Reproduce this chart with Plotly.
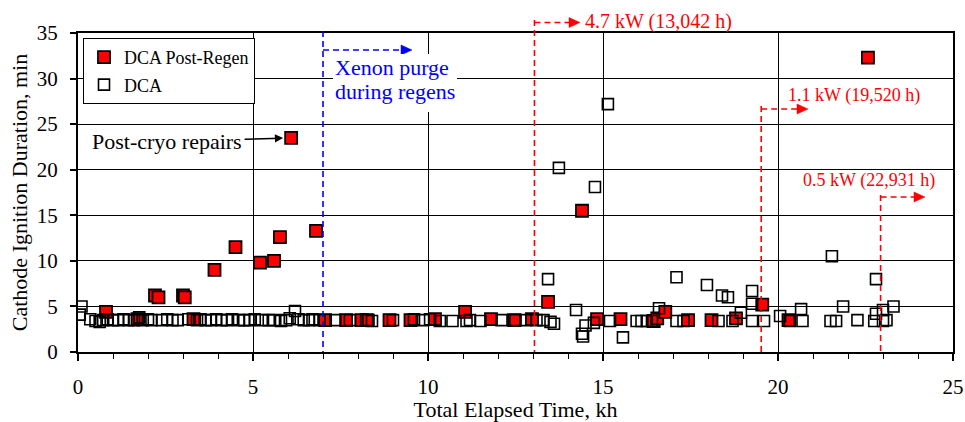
import plotly.graph_objects as go

# ---------------- data ----------------
regen_x = [0.8, 1.7, 2.2, 2.3, 3.0, 3.05, 3.3, 3.9, 4.5, 5.2, 5.6, 5.77, 6.09, 6.8,
           7.06, 7.66, 8.1, 8.25, 8.9, 9.5, 10.2, 11.06, 11.8, 12.46, 12.97, 13.43,
           14.4, 14.83, 15.5, 16.45, 16.55, 16.78, 17.43, 18.1, 18.8, 19.55, 20.3, 22.57]
regen_y = [4.4, 3.6, 6.2, 6.0, 6.2, 6.0, 3.6, 9.0, 11.5, 9.8, 10.0, 12.6, 23.5, 13.3,
           3.5, 3.5, 3.5, 3.5, 3.5, 3.5, 3.6, 4.4, 3.6, 3.5, 3.6, 5.5,
           15.5, 3.6, 3.6, 3.4, 3.7, 4.4, 3.5, 3.5, 3.7, 5.2, 3.5, 32.3]

dca_x = [0.05, 0.1, 0.35, 0.5, 0.62, 0.72, 0.85, 1.0, 1.15, 1.3, 1.45, 1.6, 1.75, 1.85,
         2.0, 2.1, 2.4, 2.55, 2.7, 2.85, 3.15, 3.4, 3.5, 3.65, 3.8, 3.95, 4.1, 4.25,
         4.4, 4.6, 4.75, 4.9, 5.05, 5.25, 5.45, 5.6, 5.8, 5.95, 6.05, 6.2, 6.3, 6.45,
         6.6, 6.7, 6.9,
         7.35, 7.77, 8.3, 8.4, 9.0, 9.6, 9.86, 10.06, 10.34, 10.7, 11.1, 11.2, 11.5,
         12.1, 12.5, 12.8, 13.1, 13.3, 13.5, 13.6,
         13.43, 13.74, 14.23, 14.4, 14.43, 14.5, 14.74, 14.77, 15.14, 15.2, 15.57,
         15.96, 16.1, 16.25, 16.4, 16.6, 17.1, 17.1, 17.3, 17.97, 18.3, 18.4, 18.57,
         18.7, 18.94, 19.26, 19.26, 19.26, 19.6, 20.06, 20.34, 20.66, 20.7, 21.5,
         21.54, 21.66, 21.86, 22.27, 22.8, 22.8, 22.75, 23.0, 23.0, 23.1, 23.3]
dca_y = [4.1, 5.0, 3.6, 3.4, 3.3, 3.5, 3.6, 3.5, 3.5, 3.6, 3.5, 3.5, 3.8, 3.5,
         3.6, 3.5, 3.5, 3.6, 3.5, 3.5, 3.6, 3.5, 3.6, 3.5, 3.5, 3.6, 3.5, 3.5,
         3.6, 3.5, 3.5, 3.5, 3.6, 3.5, 3.5, 3.5, 3.4, 3.5, 3.7, 4.5, 3.6, 3.5,
         3.5, 3.6, 3.5,
         3.5, 3.5, 3.5, 3.4, 3.5, 3.6, 3.5, 3.6, 3.4, 3.4, 3.4, 3.5, 3.4,
         3.5, 3.5, 3.5, 3.5, 3.5, 3.3, 3.1,
         8.0, 20.2, 4.6, 2.0, 1.7, 2.9, 3.2, 18.1, 27.2, 3.4, 1.6,
         3.4, 3.4, 3.4, 3.4, 4.8, 8.2, 3.4, 3.4, 7.35, 3.4, 6.2, 6.0,
         3.4, 4.3, 6.7, 5.3, 3.4, 3.4, 3.95, 3.4, 4.7, 3.4, 3.4,
         10.5, 3.4, 5.0, 3.5, 8.0, 4.2, 3.4, 4.6, 3.4, 3.5, 5.0]

x_range = [0, 25]
y_range = [0, 35]

# power-change milestones (kh) and their labels
xenon_purge_kh = 7.0
power_steps_kh = [13.042, 19.520, 22.931]
power_labels = ["4.7 kW (13,042 h)", "1.1 kW (19,520 h)", "0.5 kW (22,931 h)"]

# ---------------- layout geometry ----------------
W, H = 965, 422
ML, MR, MT, MB = 78, 12, 33, 70
PW, PH = W - ML - MR, H - MT - MB
FONT = "Liberation Serif"
RED = "#ff0000"
BLUE = "#0000ff"


def kx(kh):
    """data x (kh) -> paper x"""
    return (kh - x_range[0]) / (x_range[1] - x_range[0])


def px(xpix):
    return (xpix - ML) / PW


def py(ypix):
    return 1 - (ypix - MT) / PH


fig = go.Figure()

fig.add_trace(go.Scatter(
    x=regen_x, y=regen_y, mode="markers", name="DCA Post-Regen",
    legendgroup="a",
    marker=dict(symbol="square", size=12, color=RED,
                line=dict(color="black", width=1.8)),
))
fig.add_trace(go.Scatter(
    x=dca_x, y=dca_y, mode="markers", name="DCA",
    legendgroup="b",
    marker=dict(symbol="square-open", size=11, color="black",
                line=dict(color="black", width=1.6)),
))

shapes = []
annotations = []


def dashed_marker(kh, top_pix, arrow_pix, tip_pix, color):
    x0 = kx(kh)
    shapes.append(dict(type="line", xref="paper", yref="paper",
                       x0=x0, x1=x0, y0=py(top_pix), y1=0,
                       line=dict(color=color, width=1.6, dash="6px,4px")))
    shapes.append(dict(type="line", xref="paper", yref="paper",
                       x0=x0, x1=px(tip_pix - 10), y0=py(arrow_pix), y1=py(arrow_pix),
                       line=dict(color=color, width=1.6, dash="6px,4px")))
    path = "M {a},{b} L {c},{d} L {e},{f} Z".format(
        a=px(tip_pix - 11), b=py(arrow_pix - 5),
        c=px(tip_pix), d=py(arrow_pix),
        e=px(tip_pix - 11), f=py(arrow_pix + 5))
    shapes.append(dict(type="path", xref="paper", yref="paper", path=path,
                       fillcolor=color, line=dict(color=color, width=0.5)))


# xenon purge marker
dashed_marker(xenon_purge_kh, 31, 50, 412, BLUE)
shapes.append(dict(type="rect", xref="paper", yref="paper", layer="above",
                   x0=px(333), x1=px(457), y0=py(112), y1=py(54),
                   fillcolor="white", line=dict(width=0)))
annotations.append(dict(text="Xenon purge", xref="paper", yref="paper",
                        x=px(333), y=py(67), xanchor="left", yanchor="middle",
                        showarrow=False, font=dict(family=FONT, size=22, color=BLUE)))
annotations.append(dict(text="during regens", xref="paper", yref="paper",
                        x=px(333), y=py(91), xanchor="left", yanchor="middle",
                        showarrow=False, font=dict(family=FONT, size=22, color=BLUE)))

# power step markers
step_geom = [(20, 22.5, 580), (106, 109, 808), (195, 197, 925)]
label_pos = [(583, 22, 20), (786, 95, 18), (801, 180, 18)]
for kh, (top, ay, tip), lab, (lx, ly, fs) in zip(power_steps_kh, step_geom,
                                                 power_labels, label_pos):
    dashed_marker(kh, top, ay, tip, RED)
    annotations.append(dict(text=lab, xref="paper", yref="paper",
                            x=px(lx), y=py(ly), xanchor="left", yanchor="middle",
                            showarrow=False,
                            font=dict(family=FONT, size=fs, color=RED)))

# post-cryo repairs callout
annotations.append(dict(text="Post-cryo repairs", x=regen_x[12], y=regen_y[12],
                        xref="x", yref="y", ax=-124, ay=4,
                        showarrow=True, arrowhead=2, arrowsize=1.1, arrowwidth=1.5,
                        arrowcolor="black", standoff=8, bgcolor="white", borderpad=2,
                        font=dict(family=FONT, size=22, color="black")))

fig.update_layout(
    width=W, height=H,
    margin=dict(l=ML, r=MR, t=MT, b=MB, pad=0, autoexpand=False),
    paper_bgcolor="white", plot_bgcolor="white",
    font=dict(family=FONT, size=20, color="black"),
    shapes=shapes, annotations=annotations,
    legend=dict(x=px(83), y=py(38), xanchor="left", yanchor="top",
                bgcolor="white", bordercolor="black", borderwidth=1,
                font=dict(family=FONT, size=18, color="black"),
                tracegroupgap=1, itemwidth=30),
    showlegend=True,
)

fig.update_xaxes(
    range=x_range, dtick=5, tick0=0, automargin=False,
    showline=True, linecolor="black", linewidth=2.2, mirror=True,
    showgrid=True, gridcolor="black", gridwidth=1.3, zeroline=False,
    ticks="outside", ticklen=7, tickwidth=1.5, tickcolor="black",
    minor=dict(dtick=1, ticks="outside", ticklen=5, tickwidth=1.2,
               tickcolor="black", showgrid=False),
    tickfont=dict(family=FONT, size=21),
    ticklabelstandoff=8,
    title=dict(text="Total Elapsed Time, kh", font=dict(family=FONT, size=22),
               standoff=8),
)
fig.update_yaxes(
    range=y_range, dtick=5, tick0=0, automargin=False,
    showline=True, linecolor="black", linewidth=2.2, mirror=True,
    showgrid=True, gridcolor="black", gridwidth=1.3, zeroline=False,
    ticks="outside", ticklen=6, tickwidth=1.5, tickcolor="black",
    tickfont=dict(family=FONT, size=21),
    ticklabelstandoff=8,
    title=dict(text="Cathode Ignition Duration, min",
               font=dict(family=FONT, size=22), standoff=3),
)

fig.write_html("out.html")
